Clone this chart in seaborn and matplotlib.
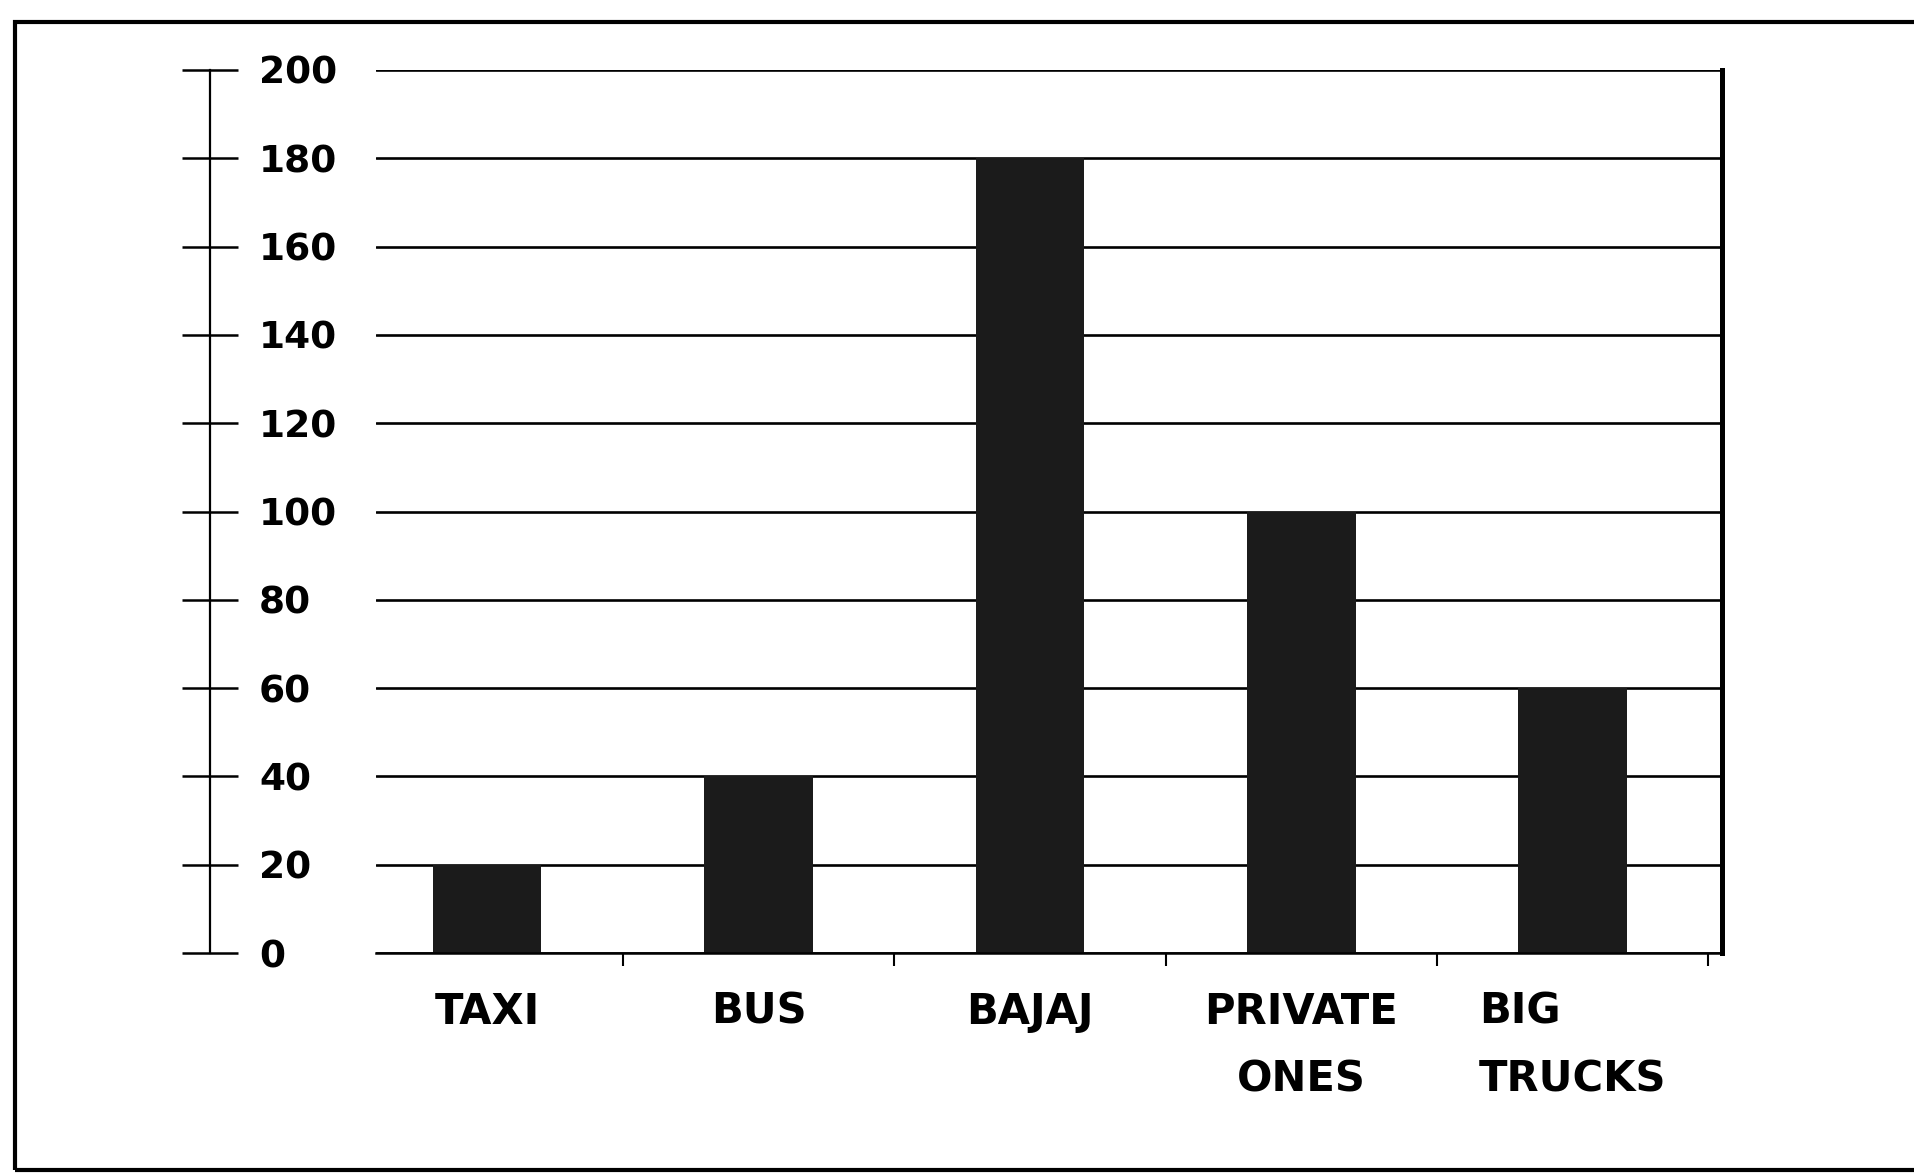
import matplotlib
matplotlib.use('Agg')
import matplotlib.pyplot as plt
from matplotlib.patches import Rectangle
from matplotlib.ticker import FixedLocator
import seaborn as sns

# data
categories = ['TAXI', 'BUS', 'BAJAJ', 'PRIVATE\nONES', 'BIG\nTRUCKS']
values = [20, 40, 180, 100, 60]
y_ticks = [0, 20, 40, 60, 80, 100, 120, 140, 160, 180, 200]

sns.set_theme(style='white')
plt.rcParams['font.family'] = ['DejaVu Sans']

fig = plt.figure(figsize=(19.15, 11.74), dpi=100)
ax = fig.add_axes([0.1963, 0.1882, 0.7029, 0.7522])

sns.barplot(x=categories, y=values, color='#1b1b1b', saturation=1, width=0.4,
            linewidth=0, ax=ax)

ax.set_xlim(-0.41, 4.55)
ax.set_ylim(0, 200)
ax.set_yticks(y_ticks)
ax.set_xlabel('')
ax.set_ylabel('')

# horizontal grid lines behind the bars
ax.grid(axis='y', color='black', linewidth=1.9)
ax.grid(axis='x', visible=False)
ax.set_axisbelow(True)

# spines
ax.spines['top'].set_visible(False)
ax.spines['left'].set_position(('axes', -0.123))
ax.spines['left'].set_linewidth(1.6)
ax.spines['left'].set_color('black')
ax.spines['right'].set_linewidth(3.6)
ax.spines['right'].set_color('black')
ax.spines['bottom'].set_linewidth(1.8)
ax.spines['bottom'].set_color('black')

# y ticks cross the axis, labels sit to the right of it
ax.tick_params(axis='y', left=True, direction='inout', length=40, width=1.8,
               color='black', pad=-55, labelsize=27, labelcolor='black')
for lab in ax.get_yticklabels():
    lab.set_horizontalalignment('left')
    lab.set_fontweight('bold')

# x labels, small separator ticks between categories
ax.xaxis.set_minor_locator(FixedLocator([0.5, 1.5, 2.5, 3.5, 4.5]))
ax.tick_params(axis='x', which='major', bottom=True, length=0, pad=27,
               labelsize=30, labelcolor='black')
ax.tick_params(axis='x', which='minor', bottom=True, direction='out',
               length=9, width=1.5, color='black')
for lab in ax.get_xticklabels():
    lab.set_fontweight('bold')
    lab.set_linespacing(1.8)
ax.get_xticklabels()[-1].set_multialignment('left')

# outer frame of the scanned page
fig.add_artist(Rectangle((0.0078, 0.0034), 1.05, 0.9779, transform=fig.transFigure,
                         fill=False, edgecolor='black', linewidth=3))

fig.savefig('out.png', dpi=100, facecolor='white')
